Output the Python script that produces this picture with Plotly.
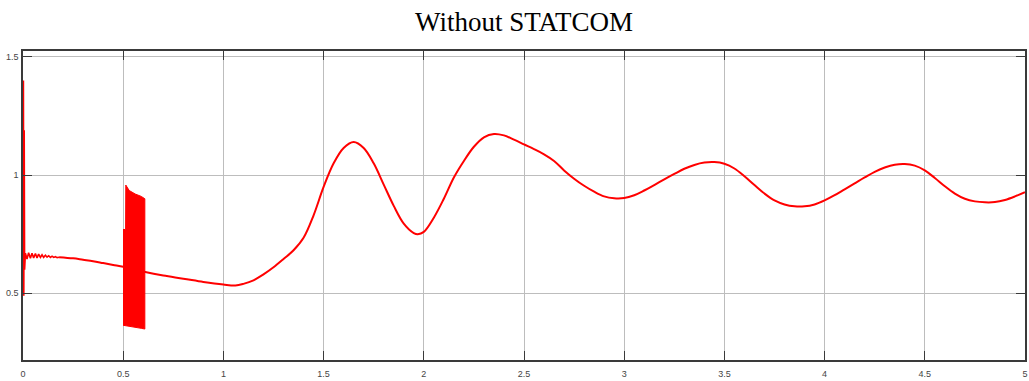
import plotly.graph_objects as go

# Start-up transient: switching spike followed by a decaying 60 Hz ripple
start_t = [0.0, 0.002, 0.004, 0.006, 0.008, 0.012, 0.020, 0.028, 0.037, 0.045,
           0.053, 0.062, 0.070, 0.078, 0.087, 0.095, 0.103, 0.112, 0.120, 0.128,
           0.137, 0.145, 0.153, 0.162, 0.170, 0.180]
start_v = [0.50, 1.40, 0.49, 1.19, 0.60, 0.67, 0.645, 0.672, 0.648, 0.670,
           0.650, 0.668, 0.650, 0.666, 0.652, 0.663, 0.652, 0.661, 0.653, 0.659,
           0.652, 0.657, 0.652, 0.655, 0.651, 0.653]

# Slow electromechanical swing after the disturbance
swing_t = [0.18, 0.25, 0.30, 0.35, 0.40, 0.45, 0.50, 0.55, 0.61, 0.70, 0.80, 0.90,
           1.00, 1.06, 1.10, 1.15, 1.20, 1.25, 1.30, 1.35, 1.40, 1.45, 1.50, 1.55,
           1.60, 1.65, 1.70, 1.75, 1.80, 1.85, 1.90, 1.95, 1.97, 2.00, 2.05, 2.10,
           2.15, 2.20, 2.25, 2.30, 2.35, 2.40, 2.45, 2.50, 2.55, 2.60, 2.65, 2.70,
           2.75, 2.80, 2.85, 2.90, 2.95, 3.00, 3.05, 3.10, 3.15, 3.20, 3.25, 3.30,
           3.35, 3.40, 3.45, 3.50, 3.55, 3.60, 3.65, 3.70, 3.75, 3.80, 3.85, 3.90,
           3.95, 4.00, 4.05, 4.10, 4.15, 4.20, 4.25, 4.30, 4.35, 4.40, 4.45, 4.50,
           4.55, 4.60, 4.65, 4.70, 4.75, 4.80, 4.85, 4.90, 4.95, 5.00]
swing_v = [0.653, 0.648, 0.642, 0.636, 0.628, 0.620, 0.612, 0.603, 0.590, 0.575,
           0.562, 0.548, 0.537, 0.533, 0.540, 0.555, 0.580, 0.610, 0.645, 0.682,
           0.735, 0.830, 0.950, 1.050, 1.115, 1.140, 1.115, 1.050, 0.960, 0.870,
           0.795, 0.755, 0.750, 0.760, 0.820, 0.900, 0.990, 1.060, 1.120, 1.160,
           1.174, 1.168, 1.150, 1.130, 1.110, 1.088, 1.060, 1.020, 0.985, 0.955,
           0.930, 0.910, 0.902, 0.903, 0.915, 0.935, 0.958, 0.982, 1.005, 1.027,
           1.043, 1.053, 1.055, 1.048, 1.028, 0.995, 0.958, 0.922, 0.893, 0.876,
           0.868, 0.868, 0.876, 0.893, 0.915, 0.940, 0.965, 0.990, 1.014, 1.032,
           1.044, 1.047, 1.040, 1.020, 0.988, 0.953, 0.922, 0.900, 0.889, 0.885,
           0.886, 0.895, 0.910, 0.928]

# Fault interval: envelope of the fast oscillation
fault_upper_t = [0.499, 0.512, 0.513, 0.530, 0.560, 0.590, 0.608]
fault_upper_v = [0.770, 0.770, 0.958, 0.935, 0.920, 0.910, 0.900]
fault_lower_t = [0.499, 0.530, 0.560, 0.590, 0.608]
fault_lower_v = [0.365, 0.360, 0.357, 0.352, 0.349]

x_ticks = [0, 0.5, 1, 1.5, 2, 2.5, 3, 3.5, 4, 4.5, 5]
x_labels = ["0", "0.5", "1", "1.5", "2", "2.5", "3", "3.5", "4", "4.5", "5"]
y_ticks = [0.5, 1, 1.5]
y_labels = ["0.5", "1", "1.5"]

RED = "#ff0000"

fig = go.Figure()
fig.add_trace(go.Scatter(x=swing_t, y=swing_v, mode="lines",
                         line=dict(color=RED, width=2, shape="spline", smoothing=1.0),
                         hoverinfo="skip"))
fig.add_trace(go.Scatter(x=start_t, y=start_v, mode="lines",
                         line=dict(color=RED, width=1.6), hoverinfo="skip"))
fig.add_trace(go.Scatter(x=fault_upper_t + fault_lower_t[::-1],
                         y=fault_upper_v + fault_lower_v[::-1],
                         mode="lines", fill="toself", fillcolor=RED,
                         line=dict(color=RED, width=1), hoverinfo="skip"))

axis_common = dict(showline=True, linecolor="#3a3a3a", linewidth=1.5, mirror="ticks",
                   ticks="inside", ticklen=9, tickcolor="#3a3a3a", tickwidth=1,
                   showgrid=True, gridcolor="#bdbdbd", gridwidth=1, zeroline=False,
                   tickfont=dict(family="Liberation Sans, Arial, sans-serif",
                                 size=9, color="#444444"))

fig.update_xaxes(range=[0, 5], tickvals=x_ticks, ticktext=x_labels,
                 ticklabelstandoff=4, **axis_common)
fig.update_yaxes(range=[0.218, 1.525], tickvals=y_ticks, ticktext=y_labels,
                 ticklabelstandoff=1, **axis_common)

fig.update_layout(
    width=1029, height=381,
    margin=dict(l=23, r=2, t=51, b=15),
    paper_bgcolor="white", plot_bgcolor="white",
    showlegend=False,
    title=dict(text="Without STATCOM", x=0.5, xref="paper", xanchor="center",
               y=1 - 22 / 381, yref="container", yanchor="middle",
               font=dict(family="Liberation Serif, Times New Roman, serif",
                         size=27, color="#000000")),
)

fig.write_html("out.html")
